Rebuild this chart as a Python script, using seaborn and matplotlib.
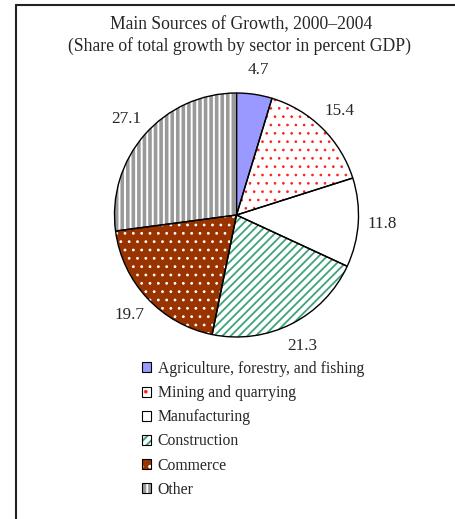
import matplotlib
matplotlib.use("Agg")
import matplotlib.pyplot as plt
from matplotlib.patches import Patch
from matplotlib.lines import Line2D
from matplotlib.legend_handler import HandlerTuple
import numpy as np
import seaborn as sns

# Share of total growth by sector, 2000-2004 (percent of GDP)
sectors = [
    "Agriculture, forestry, and fishing",
    "Mining and quarrying",
    "Manufacturing",
    "Construction",
    "Commerce",
    "Other",
]
shares = [4.7, 15.4, 11.8, 21.3, 19.7, 27.1]
share_labels = ["4.7", "15.4", "11.8", "21.3", "19.7", "27.1"]

sns.set_theme(style="white")
plt.rcParams["font.family"] = ["Liberation Serif", "DejaVu Serif"]
plt.rcParams["hatch.linewidth"] = 1.4

face_colors = ["#9999ff", "white", "white", "white", "#993300", "#9a9a9a"]
hatch_colors = ["#9999ff", "#ff2020", "white", "#3fa37a", "white", "white"]
hatches = [None, "..", None, "////", "..", "|||"]
hatch_widths = [1.4, 0.7, 1.4, 1.3, 0.8, 1.4]


def style_patch(p, hc, h, hw):
    p.set_edgecolor(hc)
    if h:
        p.set_hatch(h)
    if hasattr(p, "set_hatch_linewidth"):
        p.set_hatch_linewidth(hw)


W, H = 455, 519
fig = plt.figure(figsize=(W / 100, H / 100), dpi=100)
fig.patch.set_facecolor("white")

# pie placed by pixel centre and radius
cx, cy, r = 236.5, 215, 122
ax = fig.add_axes([(cx - r) / W, 1 - (cy + r) / H, 2 * r / W, 2 * r / H])

wedges, _ = ax.pie(
    shares, startangle=90, counterclock=False,
    colors=face_colors, wedgeprops=dict(linewidth=0),
)
for w, hc, h, hw in zip(wedges, hatch_colors, hatches, hatch_widths):
    style_patch(w, hc, h, hw)
    w.set_clip_on(False)

# black outlines drawn on top of the hatched fills
outlines, _ = ax.pie(
    shares, startangle=90, counterclock=False,
    wedgeprops=dict(fill=False, edgecolor="black", linewidth=1.0),
)
for w in outlines:
    w.set_clip_on(False)

# value labels just outside each wedge
for w, lab in zip(wedges, share_labels):
    mid = np.deg2rad((w.theta1 + w.theta2) / 2)
    ax.text(1.2 * np.cos(mid), 1.2 * np.sin(mid), lab,
            ha="center", va="center", fontsize=12.3)

ax.set_xlim(-1, 1)
ax.set_ylim(-1, 1)
ax.set_aspect("equal")
ax.axis("off")

# title
fig.text(241 / W, 1 - 29 / H, "Main Sources of Growth, 2000\u20132004",
         ha="center", va="baseline", fontsize=12.7)
fig.text(239 / W, 1 - 51 / H, "(Share of total growth by sector in percent GDP)",
         ha="center", va="baseline", fontsize=12.7)

# legend: hatched swatch with a black outline
handles = []
for fc, hc, h, hw in zip(face_colors, hatch_colors, hatches, hatch_widths):
    swatch = Patch(facecolor=fc, linewidth=0)
    style_patch(swatch, hc, h, hw)
    handles.append((swatch, Patch(fill=False, edgecolor="black", linewidth=0.8)))

fig.legend(
    handles, sectors, loc="upper left",
    bbox_to_anchor=(142 / W, 1 - 361 / H),
    frameon=False, fontsize=11.3,
    handlelength=0.6, handleheight=0.6, handletextpad=0.4,
    labelspacing=0.52, borderpad=0, borderaxespad=0,
    handler_map={tuple: HandlerTuple(ndivide=1)},
)

# frame lines along the top and left edges
fig.add_artist(Line2D([16 / W, 1], [1 - 5 / H, 1 - 5 / H],
                      transform=fig.transFigure, color="#222222", lw=1.5))
fig.add_artist(Line2D([16 / W, 16 / W], [0, 1 - 5 / H],
                      transform=fig.transFigure, color="#222222", lw=1.5))

fig.savefig("out.png", dpi=100, facecolor="white")
